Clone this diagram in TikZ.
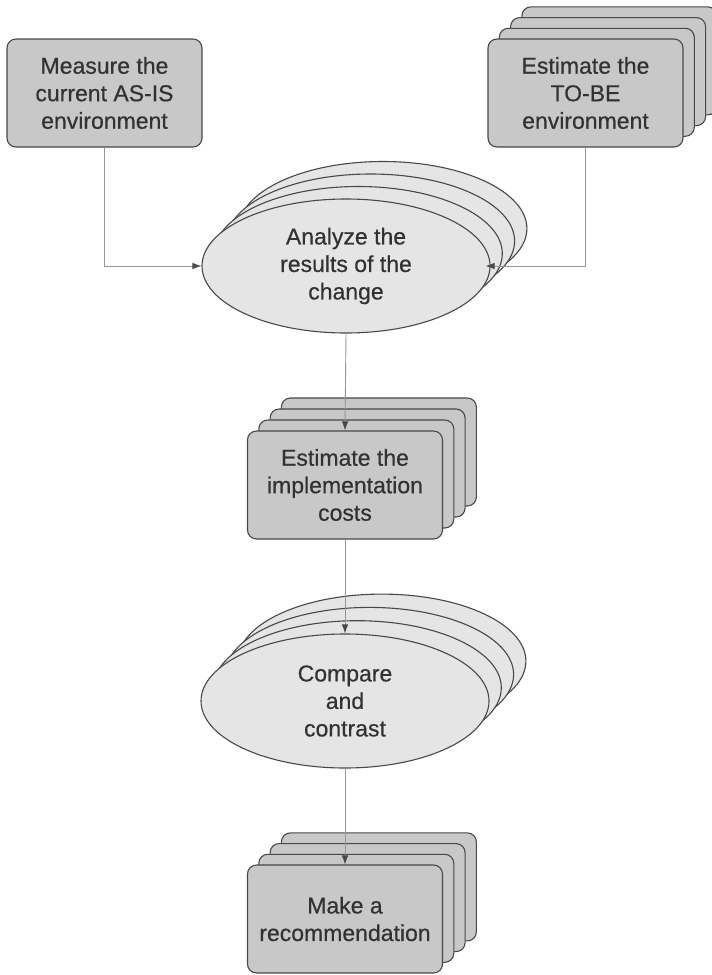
\documentclass[tikz,border=0pt]{standalone}
\usepackage{fontspec}
\setmainfont{Liberation Sans}
\usetikzlibrary{shapes.geometric,arrows.meta,calc}
\definecolor{cardfill}{RGB}{200,200,200}
\definecolor{ovalfill}{RGB}{229,229,229}
\definecolor{edge}{RGB}{72,72,72}
\definecolor{wire}{RGB}{150,150,150}
\definecolor{ink}{RGB}{50,50,50}
\tikzset{
  label text/.style={align=center, text=ink,
    font=\fontsize{23}{27.5}\selectfont\addfontfeature{FakeBold=0.5}},
  card/.style={label text, draw=edge, line width=1.1pt, fill=cardfill,
    rounded corners=9pt, minimum width=195pt, minimum height=108pt,
    inner sep=0pt},
  oval/.style={label text, ellipse, draw=edge, line width=1.1pt, fill=ovalfill,
    minimum width=288pt, minimum height=134pt, inner sep=0pt},
  wirelink/.style={draw=wire, line width=0.9pt,
    -{Latex[length=9pt,width=6.5pt,color=edge]}}
}
\begin{document}
\begin{tikzpicture}[x=1pt,y=-1pt]
\useasboundingbox (0,0) rectangle (712,975);
\clip (0,0) rectangle (712,975);

% anchor points of the front shapes
\coordinate (pA) at (104.5,93);
\coordinate (pB) at (585.5,93);
\coordinate (pC) at (346,266);
\coordinate (pD) at (345,485);
\coordinate (pE) at (345,701);
\coordinate (pF) at (345,919);

% single card: current state
\node[card] (asis) at (pA) {Measure the\\current AS-IS\\environment};

% stacked cards: future state
\foreach \k in {3,2,1}
  \node[card] (tobe\k) at ($(pB)+(\k*11.3,-\k*10.7)$) {};
\node[card] (tobe) at (pB) {Estimate the\\TO-BE\\environment};

% stacked ovals: analysis
\foreach \k in {3,2,1}
  \node[oval] (analyze\k) at ($(pC)+(\k*12.3,-\k*12.5)$) {};
\node[oval] (analyze) at (pC) {Analyze the\\results of the\\change};

% stacked cards: costs
\foreach \k in {3,2,1}
  \node[card] (costs\k) at ($(pD)+(\k*11.3,-\k*11)$) {};
\node[card] (costs) at (pD) {Estimate the\\implementation\\costs};

% stacked ovals: comparison
\foreach \k in {3,2,1}
  \node[oval] (compare\k) at ($(pE)+(\k*12.3,-\k*13.3)$) {};
\node[oval] (compare) at (pE) {Compare\\and\\contrast};

% stacked cards: recommendation
\foreach \k in {3,2,1}
  \node[card] (recommend\k) at ($(pF)+(\k*11.3,-\k*10.7)$) {};
\node[card] (recommend) at (pF) {Make a\\recommendation};

% connectors
\draw[wirelink] (asis.south) |- (analyze.west);
\draw[wirelink, shorten >=-5pt] (tobe.south) |- (analyze.east);
\draw[wirelink] (analyze.south) -- (costs.north);
\draw[wirelink] (costs.south) -- (compare.north);
\draw[wirelink] (compare.south) -- (recommend.north);
\end{tikzpicture}
\end{document}
